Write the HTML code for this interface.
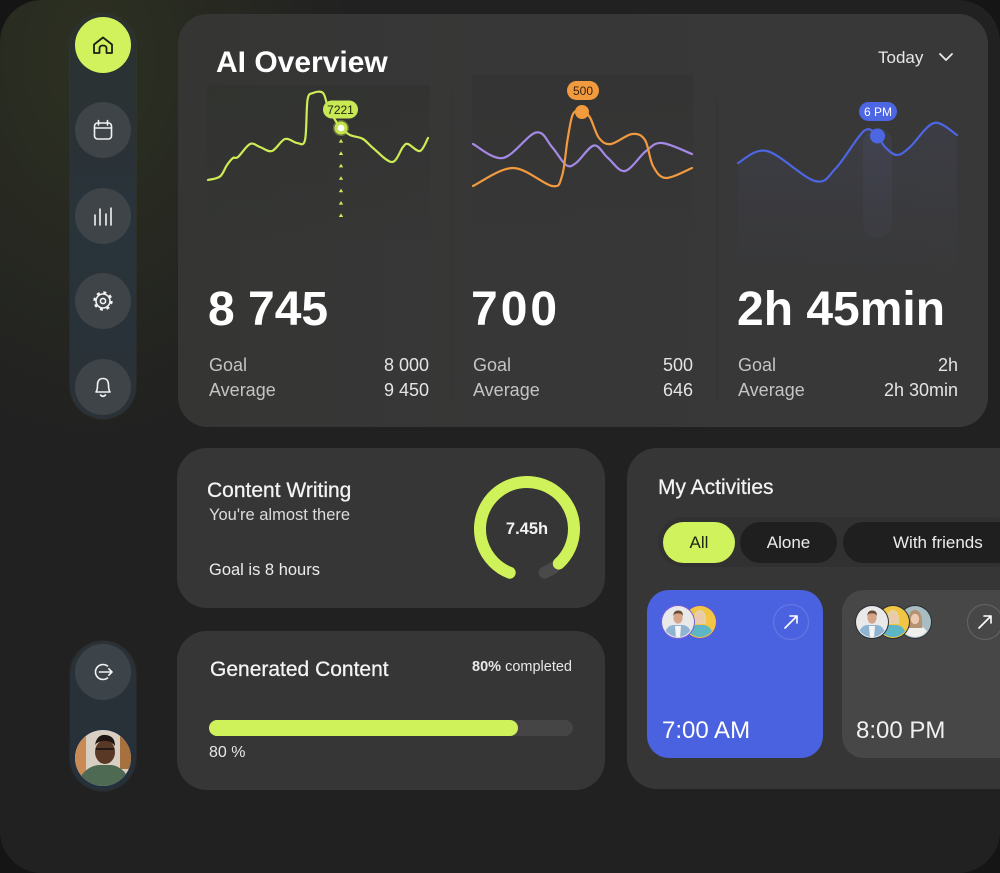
<!DOCTYPE html>
<html><head><meta charset="utf-8">
<style>
*{box-sizing:border-box;margin:0;padding:0}
body{width:1000px;height:873px;background:#151515;overflow:hidden;position:relative;font-family:"Liberation Sans",sans-serif;color:#fff}
.frame{position:absolute;left:0;top:0;width:1000px;height:873px;border-radius:42px;overflow:hidden;
 background:radial-gradient(ellipse 260px 380px at 90px 60px, rgba(62,72,34,0.4), rgba(62,72,34,0) 100%), #212121}
.abs{position:absolute;white-space:nowrap}
.card{position:absolute;background:#373737;border-radius:30px}
.t{position:absolute;white-space:nowrap;line-height:1}
.lbl{font-size:18px;color:#c4c4c4}
.val{font-size:18px;color:#e4e4e4;text-align:right}
.big{font-size:48px;font-weight:bold;color:#fff}
svg{position:absolute;left:0;top:0}
</style></head>
<body>
<div class="frame">

<!-- sidebar pills -->
<div class="abs" style="left:70px;top:14px;width:66px;height:405px;border-radius:33px;background:linear-gradient(180deg,#2b3130 0%,#29333a 50%,#2a3238 100%);box-shadow:0 0 0 1px rgba(255,255,255,0.03)"></div>
<div class="abs" style="left:70px;top:641px;width:66px;height:150px;border-radius:33px;background:linear-gradient(180deg,#2a3237,#263039);box-shadow:0 0 0 1px rgba(255,255,255,0.03)"></div>

<!-- cards -->
<div class="card" style="left:178px;top:14px;width:810px;height:413px;background:linear-gradient(90deg,#353634 0%,#373737 40%,#383838 100%)"></div>
<div class="card" style="left:177px;top:448px;width:428px;height:160px;background:#363636"></div>
<div class="card" style="left:177px;top:631px;width:428px;height:159px;background:#363636"></div>
<div class="card" style="left:627px;top:448px;width:430px;height:341px;background:#363636"></div>

<svg width="1000" height="873" viewBox="0 0 1000 873">
 <defs>
  <linearGradient id="g1" x1="0" y1="0" x2="0" y2="1">
   <stop offset="0" stop-color="#1c2216" stop-opacity="0.14"/>
   <stop offset="1" stop-color="#1c2216" stop-opacity="0"/>
  </linearGradient>
  <linearGradient id="g2" x1="0" y1="0" x2="0" y2="1">
   <stop offset="0" stop-color="#1d1b18" stop-opacity="0.12"/>
   <stop offset="1" stop-color="#1d1b18" stop-opacity="0"/>
  </linearGradient>
  <linearGradient id="gb" x1="0" y1="0" x2="0" y2="1">
   <stop offset="0" stop-color="#6a74c8" stop-opacity="0.09"/>
   <stop offset="1" stop-color="#6a74c8" stop-opacity="0"/>
  </linearGradient>
  <linearGradient id="gcol" x1="0" y1="0" x2="0" y2="1">
   <stop offset="0" stop-color="#8088d0" stop-opacity="0.08"/>
   <stop offset="1" stop-color="#8088d0" stop-opacity="0.03"/>
  </linearGradient>
  <clipPath id="cav"><circle cx="0" cy="0" r="15"/></clipPath>
  <clipPath id="cuser"><circle cx="103" cy="758" r="28"/></clipPath>
  <g id="man">
   <circle r="16" fill="#e9e9ea"/>
   <g clip-path="url(#cav)">
    <path d="M-14,16 Q-13,4 -5,3 L5,3 Q13,4 14,16 Z" fill="#8fb3d3"/>
    <path d="M-3,4 L3,4 L2,16 L-2,16 Z" fill="#f4f4f4"/>
    <ellipse cx="0" cy="-4" rx="4.6" ry="5.6" fill="#d6a587"/>
    <path d="M-5,-6 Q-4,-12 0,-11.5 Q5,-12 5,-6 Q3,-9 0,-8.5 Q-3,-9 -5,-6Z" fill="#6a4a35"/>
   </g>
  </g>
  <g id="wom">
   <circle r="16" fill="#f2c544"/>
   <g clip-path="url(#cav)">
    <path d="M-14,16 Q-12,4 -4,3 L4,3 Q12,4 14,16 Z" fill="#5db6c6"/>
    <path d="M-6,2 Q-7,-12 0,-12 Q7,-12 6,2 Z" fill="#e5d2a3"/>
    <ellipse cx="0" cy="-4" rx="4.2" ry="5.2" fill="#ecc8ac"/>
   </g>
  </g>
  <g id="wom2">
   <circle r="16" fill="#a7bdc2"/>
   <g clip-path="url(#cav)">
    <path d="M-14,16 Q-12,5 -4,4 L4,4 Q12,5 14,16 Z" fill="#f1efec"/>
    <path d="M-7,6 Q-8,-12 0,-12 Q8,-12 7,6 Z" fill="#b59272"/>
    <ellipse cx="0" cy="-3" rx="4.2" ry="5.2" fill="#eccab2"/>
   </g>
  </g>
 </defs>

 <!-- sidebar circles -->
 <circle cx="103" cy="45" r="28" fill="#d1f25c"/>
 <circle cx="103" cy="130" r="28" fill="#3e4448"/>
 <circle cx="103" cy="216" r="28" fill="#3e4448"/>
 <circle cx="103" cy="301" r="28" fill="#3e4448"/>
 <circle cx="103" cy="387" r="28" fill="#3e4448"/>
 <circle cx="103" cy="672" r="28" fill="#3d4449"/>
 <!-- icons -->
 <path d="M94,53 V44.5 L103,37.5 L112,44.5 V53 H106.5 V48.5 Q106.5,45.5 103,45.5 Q99.5,45.5 99.5,48.5 V53 Z" fill="none" stroke="#1c1f14" stroke-width="1.8" stroke-linejoin="round"/>
 <g fill="none" stroke="#f2f2f2" stroke-width="1.6" stroke-linecap="round" stroke-linejoin="round">
  <rect x="94.5" y="123" width="17" height="16" rx="3"/>
  <line x1="94.5" y1="128" x2="111.5" y2="128"/>
  <line x1="98.5" y1="120.5" x2="98.5" y2="125"/>
  <line x1="107.5" y1="120.5" x2="107.5" y2="125"/>
  <line x1="95" y1="215" x2="95" y2="225"/>
  <line x1="100" y1="209" x2="100" y2="225"/>
  <line x1="106" y1="214" x2="106" y2="225"/>
  <line x1="111" y1="208" x2="111" y2="225"/>
  <circle cx="103" cy="301" r="7" />
  <circle cx="103" cy="301" r="2.6" />
  <path d="M96,392 Q97.5,390 97.5,385 Q97.5,378.5 103,378.5 Q108.5,378.5 108.5,385 Q108.5,390 110,392 Z"/>
  <path d="M100.5,395 Q103,397.5 105.5,395"/>
  <path d="M107.5,666 A7.5,7.5 0 1 0 107.5,678"/>
  <path d="M99.5,672 H112 M108.8,668.8 L112,672 L108.8,675.2"/>
 </g>
 <circle cx="103" cy="301" r="8.5" fill="none" stroke="#f2f2f2" stroke-width="2.4" stroke-dasharray="3 3.68"/>
 <!-- user photo -->
 <circle cx="103" cy="758" r="29.5" fill="#233040"/>
 <g clip-path="url(#cuser)">
  <rect x="74" y="729" width="58" height="58" fill="#d8cfc2"/>
  <rect x="74" y="729" width="12" height="58" fill="#c98a55"/>
  <rect x="120" y="729" width="12" height="40" fill="#a7703f"/>
  <path d="M76,790 Q80,768 98,765 L112,765 Q128,768 132,790 Z" fill="#4f6a52"/>
  <ellipse cx="105" cy="752" rx="10" ry="12" fill="#5a3826"/>
  <path d="M95,745 Q97,734 106,735 Q115,736 115,746 Q110,740 104,741 Q98,741 95,745Z" fill="#1f1612"/>
  <path d="M96,749 H114" stroke="#111" stroke-width="1.5"/>
 </g>

 <!-- chart backgrounds -->
 <rect x="207" y="85" width="223" height="165" fill="url(#g1)"/>
 <rect x="472" y="75" width="221" height="165" fill="url(#g2)"/>
 <line x1="452" y1="90" x2="452" y2="400" stroke="#333333" stroke-width="1"/>
 <line x1="717" y1="100" x2="717" y2="400" stroke="#333333" stroke-width="1"/>

 <!-- chart 1 lime -->
 <path id="pl" d="M208,180 L220,176.5 L227,165 L233,158 L238,157 L250,144 L260,147 L272,151 L285,139 L297,143 L305,140 L307.5,100 L313,93 L323,93 L328,107 L337,123 L341,128 L350,135 L363,139 L373,148 L392,162 L403,147 L408,144 L420,151 L428,138" fill="none" stroke="#cdec55" stroke-width="2.2" stroke-linecap="round" stroke-linejoin="round"/>
 <g fill="#cdec55">
  <path d="M341,139 l2.2,3.6 h-4.4z"/>
  <path d="M341,151.4 l2.2,3.6 h-4.4z"/>
  <path d="M341,163.8 l2.2,3.6 h-4.4z"/>
  <path d="M341,176.2 l2.2,3.6 h-4.4z"/>
  <path d="M341,188.6 l2.2,3.6 h-4.4z"/>
  <path d="M341,201 l2.2,3.6 h-4.4z"/>
  <path d="M341,213.4 l2.2,3.6 h-4.4z"/>
 </g>
 <circle cx="341" cy="128" r="8" fill="#cdec55" opacity="0.35"/>
 <circle cx="341" cy="128" r="6.5" fill="#c4e34f"/>
 <circle cx="341" cy="128" r="3.3" fill="#ffffff"/>
 <rect x="323" y="100.5" width="35" height="18" rx="9" fill="#c8e854"/>
 <text x="340.5" y="114" font-family="Liberation Sans, sans-serif" font-size="12" fill="#1d2410" text-anchor="middle">7221</text>

 <!-- chart 2 -->
 <path id="pp" d="M473,144 L503,158 L536,132.5 L552,147 L566,165 L576,163 L594,145.5 L608,158 L625,171 L646,151 L662,143 L692,154" fill="none" stroke="#a48ae6" stroke-width="2.2" stroke-linecap="round" stroke-linejoin="round"/>
 <path id="po" d="M473,186 L513,168 L552,186 L562,176 L567.5,140 L573,114 L582,111 L590,117.5 L599,138 L611,144 L632,134 L645,140 L653,166 L666,178 L692,168" fill="none" stroke="#f29a3e" stroke-width="2.2" stroke-linecap="round" stroke-linejoin="round"/>
 <circle cx="582" cy="112" r="7" fill="#f29a3e"/>
 <rect x="567" y="81" width="32" height="19" rx="9.5" fill="#f29a3e"/>
 <text x="583" y="95" font-family="Liberation Sans, sans-serif" font-size="12" fill="#3a230c" text-anchor="middle">500</text>

 <!-- chart 3 -->
 <rect x="863" y="128" width="29" height="110" rx="14.5" fill="url(#gcol)"/>
 <path id="pbf" d="M738,163 L767,151 L815,181 L836,168 L864,131 L877,136 L885,147 L897,155 L910,147 L934,123 L957,135 L957,290 L738,290 Z" fill="url(#gb)"/>
 <path id="pb" d="M738,163 L767,151 L815,181 L836,168 L864,131 L877,136 L885,147 L897,155 L910,147 L934,123 L957,135" fill="none" stroke="#4d66e3" stroke-width="2.2" stroke-linecap="round" stroke-linejoin="round"/>
 <circle cx="877.5" cy="136" r="7.5" fill="#4d66e3"/>
 <rect x="859" y="102" width="38" height="19" rx="9.5" fill="#4d66e3"/>
 <text x="878" y="116" font-family="Liberation Sans, sans-serif" font-size="12" fill="#ffffff" text-anchor="middle">6 PM</text>

 <!-- Today chevron -->
 <path d="M940,54 L946,60 L952,54" fill="none" stroke="#eaeaea" stroke-width="1.8" stroke-linecap="round" stroke-linejoin="round"/>

 <!-- gauge -->
 <path d="M554,567.5 A47,47 0 0 1 544.6,572.6" fill="none" stroke="#4a4a4a" stroke-width="12" stroke-linecap="round"/>
 <path d="M509.7,572.7 A47,47 0 1 1 558.8,563.6" fill="none" stroke="#cff25b" stroke-width="12" stroke-linecap="round"/>

 <!-- progress bar -->
 <rect x="209" y="720" width="364" height="16" rx="8" fill="#454545"/>
 <rect x="209" y="720" width="309" height="16" rx="8" fill="#cff25b"/>

 <!-- tabs -->
 <rect x="658" y="517" width="360" height="50" rx="25" fill="#2f2f2f" opacity="0.7"/>
 <rect x="663" y="522" width="72" height="41" rx="20.5" fill="#d0f25c"/>
 <rect x="740" y="522" width="97" height="41" rx="20.5" fill="#1f1f1f"/>
 <rect x="843" y="522" width="200" height="41" rx="20.5" fill="#1f1f1f"/>

 <!-- activity cards -->
 <rect x="647" y="590" width="176" height="168" rx="22" fill="#4b62e0"/>
 <rect x="842" y="590" width="200" height="168" rx="22" fill="#474747"/>
 <circle cx="791" cy="622" r="17.5" fill="none" stroke="rgba(255,255,255,0.14)" stroke-width="1.2"/>
 <path d="M785,628 L797,616 M790,616 H797 V623" fill="none" stroke="#fff" stroke-width="1.6" stroke-linecap="round" stroke-linejoin="round"/>
 <circle cx="985" cy="622" r="17.5" fill="none" stroke="rgba(255,255,255,0.14)" stroke-width="1.2"/>
 <path d="M979,628 L991,616 M984,616 H991 V623" fill="none" stroke="#fff" stroke-width="1.6" stroke-linecap="round" stroke-linejoin="round"/>
 <!-- avatars -->
 <circle cx="700" cy="622" r="17" fill="#6b56c9"/>
 <use href="#wom" x="700" y="622"/>
 <circle cx="678" cy="622" r="17" fill="#7a5fd6"/>
 <use href="#man" x="678" y="622"/>
 <circle cx="915" cy="622" r="17" fill="#2a2f35"/>
 <use href="#wom2" x="915" y="622"/>
 <circle cx="893" cy="622" r="17" fill="#2a2f35"/>
 <use href="#wom" x="893" y="622"/>
 <circle cx="872" cy="622" r="17" fill="#2a2f35"/>
 <use href="#man" x="872" y="622"/>
</svg>

<!-- AI overview text -->
<div class="t" style="left:216px;top:48px;font-size:30px;font-weight:bold">AI Overview</div>
<div class="t" style="left:878px;top:49px;font-size:17px;color:#e8e8e8">Today</div>

<div class="t big" style="left:208px;top:286px">8 745</div>
<div class="t big" style="left:471px;top:286px;letter-spacing:3px">700</div>
<div class="t big" style="left:737px;top:286px">2h 45min</div>

<div class="t lbl" style="left:209px;top:356px">Goal</div>
<div class="t lbl" style="left:209px;top:381px">Average</div>
<div class="t val" style="right:571px;top:356px">8 000</div>
<div class="t val" style="right:571px;top:381px">9 450</div>

<div class="t lbl" style="left:473px;top:356px">Goal</div>
<div class="t lbl" style="left:473px;top:381px">Average</div>
<div class="t val" style="right:307px;top:356px">500</div>
<div class="t val" style="right:307px;top:381px">646</div>

<div class="t lbl" style="left:738px;top:356px">Goal</div>
<div class="t lbl" style="left:738px;top:381px">Average</div>
<div class="t val" style="right:42px;top:356px">2h</div>
<div class="t val" style="right:42px;top:381px">2h 30min</div>

<!-- content writing -->
<div class="t" style="left:207px;top:480px;font-size:21px;color:#f4f4f4;-webkit-text-stroke:0.25px #f4f4f4">Content Writing</div>
<div class="t" style="left:209px;top:507px;font-size:16.5px;color:#dcdcdc">You're almost there</div>
<div class="t" style="left:209px;top:562px;font-size:16.5px;color:#ececec">Goal is 8 hours</div>
<div class="t" style="left:487px;top:521px;width:80px;text-align:center;font-size:16.5px;font-weight:bold;color:#f2f2f2">7.45h</div>

<!-- generated content -->
<div class="t" style="left:210px;top:659px;font-size:21px;color:#f4f4f4;-webkit-text-stroke:0.25px #f4f4f4">Generated Content</div>
<div class="t" style="right:428px;top:660px;font-size:14.5px;color:#e8e8e8"><b>80%</b> completed</div>
<div class="t" style="left:209px;top:745px;font-size:16px;color:#e8e8e8">80 %</div>

<!-- activities -->
<div class="t" style="left:658px;top:477px;font-size:21px;color:#f4f4f4;-webkit-text-stroke:0.25px #f4f4f4">My Activities</div>
<div class="t" style="left:663px;top:534px;width:72px;text-align:center;font-size:17px;color:#1d2410">All</div>
<div class="t" style="left:740px;top:534px;width:97px;text-align:center;font-size:17px;color:#ececec">Alone</div>
<div class="t" style="left:893px;top:534px;font-size:17px;color:#ececec">With friends</div>
<div class="t" style="left:662px;top:719px;font-size:24px;color:#ffffff">7:00 AM</div>
<div class="t" style="left:856px;top:719px;font-size:24px;color:#f0f0f0">8:00 PM</div>

</div>
<script>
(function(){
function sm(p){var d='M'+p[0][0]+','+p[0][1];for(var i=0;i<p.length-1;i++){var p0=p[i-1]||p[i],p1=p[i],p2=p[i+1],p3=p[i+2]||p2;
d+=' C'+(p1[0]+(p2[0]-p0[0])/6).toFixed(1)+','+(p1[1]+(p2[1]-p0[1])/6).toFixed(1)+' '+(p2[0]-(p3[0]-p1[0])/6).toFixed(1)+','+(p2[1]-(p3[1]-p1[1])/6).toFixed(1)+' '+p2[0]+','+p2[1];}return d;}
var L=[[208,180],[220,176.5],[227,165],[233,158],[238,157],[250,144],[260,147],[272,151],[285,139],[297,143],[305,140],[307.5,100],[313,93],[323,93],[328,107],[337,123],[341,128],[350,135],[363,139],[373,148],[392,162],[403,147],[408,144],[420,151],[428,138]];
var P=[[473,144],[503,158],[536,132.5],[552,147],[566,165],[576,163],[594,145.5],[608,158],[625,171],[646,151],[662,143],[692,154]];
var O=[[473,186],[513,168],[552,186],[562,176],[567.5,140],[573,114],[582,111],[590,117.5],[599,138],[611,144],[632,134],[645,140],[653,166],[666,178],[692,168]];
var B=[[738,163],[767,151],[815,181],[836,168],[864,131],[877,136],[885,147],[897,155],[910,147],[934,123],[957,135]];
try{
document.getElementById('pl').setAttribute('d',sm(L));
document.getElementById('pp').setAttribute('d',sm(P));
document.getElementById('po').setAttribute('d',sm(O));
document.getElementById('pb').setAttribute('d',sm(B));
document.getElementById('pbf').setAttribute('d',sm(B)+' L957,290 L738,290 Z');
}catch(e){}
})();
</script>
</body></html>
